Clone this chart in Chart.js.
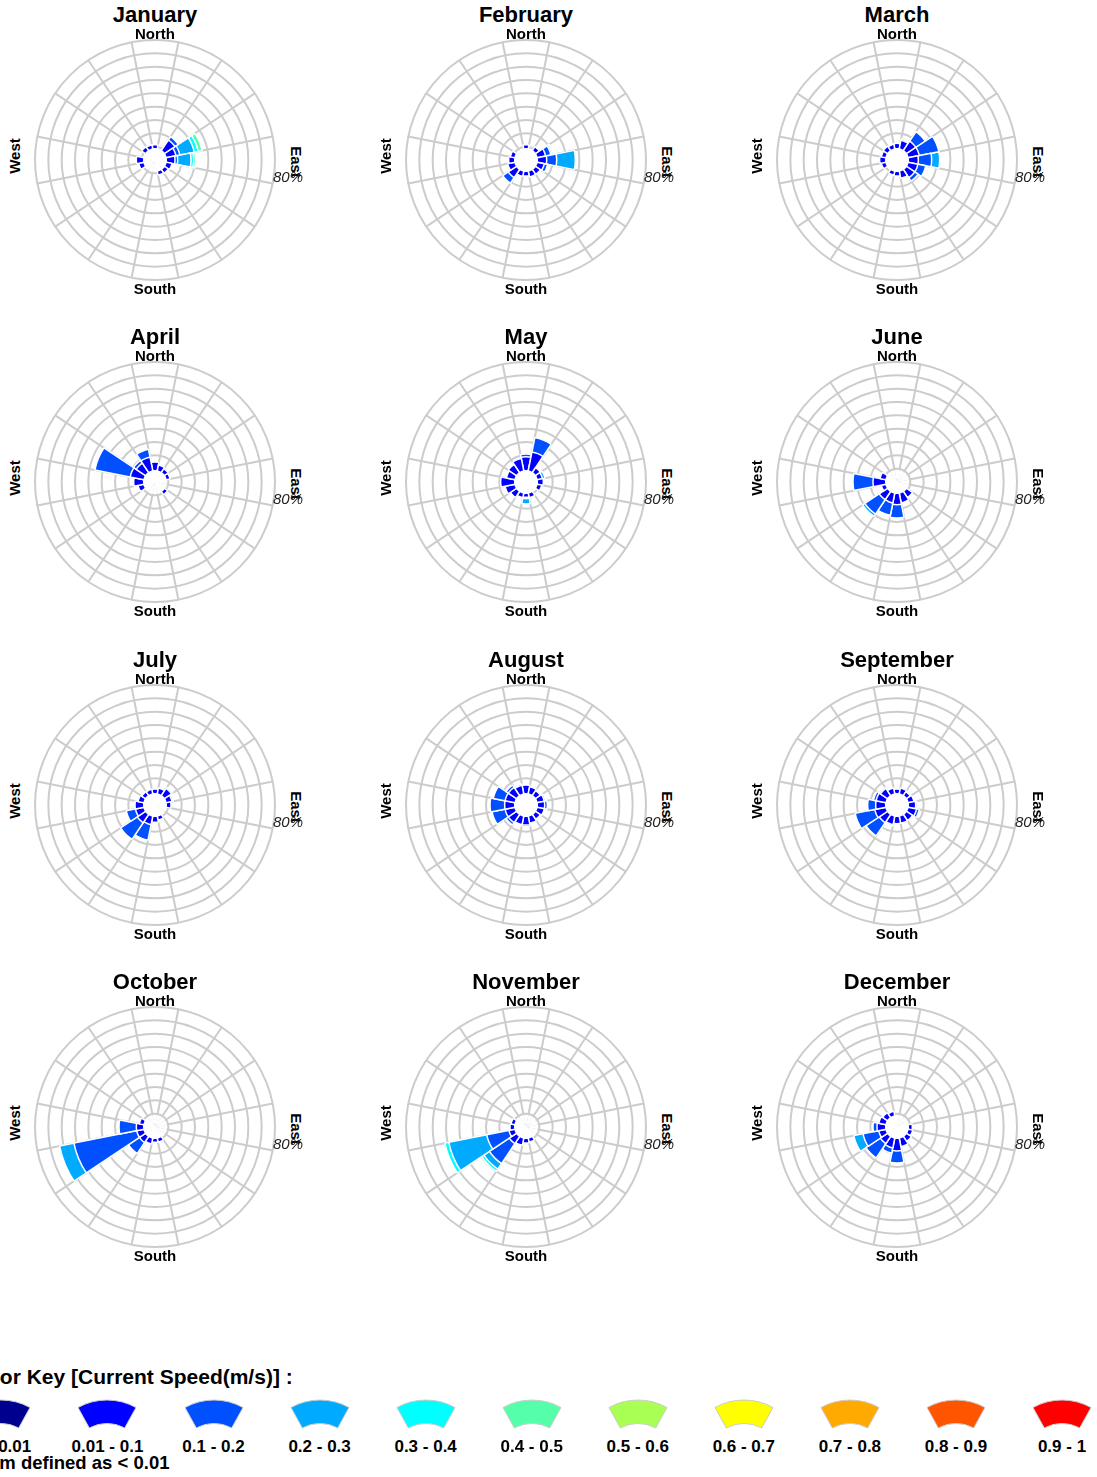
<!DOCTYPE html>
<html>
<head>
<meta charset="utf-8">
<script src="https://cdn.jsdelivr.net/npm/chart.js@4.4.1/dist/chart.umd.min.js"></script>
<style>
  body { margin: 0; background: #fff; }
  #page { position: relative; width: 1097px; height: 1477px; overflow: hidden;
          font-family: Arial, "Liberation Sans", sans-serif; color: #000; }
  .lbl { position: absolute; white-space: nowrap; transform: translate(-50%, -50%);
         font-weight: bold; line-height: 1; }
  canvas { position: absolute; }
  svg { position: absolute; }
</style>
</head>
<body>
<div id="page"></div>
<script>
// directions, clockwise from North
const directions = ['N', 'NNE', 'NE', 'ENE', 'E', 'ESE', 'SE', 'SSE',
                    'S', 'SSW', 'SW', 'WSW', 'W', 'WNW', 'NW', 'NNW'];
const speedBins = ['< 0.01', '0.01 - 0.1', '0.1 - 0.2', '0.2 - 0.3', '0.3 - 0.4', '0.4 - 0.5',
                   '0.5 - 0.6', '0.6 - 0.7', '0.7 - 0.8', '0.8 - 0.9', '0.9 - 1'];
const binColors = ['#00008f', '#0000ff', '#0050ff', '#00aaff', '#00ffff', '#55ffaa',
                   '#aaff55', '#ffff00', '#ffaa00', '#ff5500', '#ff0000'];
const radialTicks = [-10, 80]; // hole at the centre, outer ring = 80%
const holeValue = -1;

// % of time per direction, one row per speed bin starting at 0.01 - 0.1
const january = [
  [1.5, 0, 8, 6, 5, 3, 2, 1.5, 0, 0, 0, 2.5, 4, 0, 2, 1.5],
  [0, 0, 3, 3, 2, 0, 0, 0, 0, 0, 0, 0, 0, 0, 0, 0],
  [0, 0, 0, 11, 10, 0, 0, 0, 0, 0, 0, 0, 0, 0, 0, 0],
  [0, 0, 0, 3, 2, 0, 0, 0, 0, 0, 0, 0, 0, 0, 0, 0],
  [0, 0, 0, 3, 1.5, 0, 0, 0, 0, 0, 0, 0, 0, 0, 0, 0]
];
const february = [
  [1.5, 0, 2, 5, 5.5, 4, 3, 3, 2, 2.5, 6, 4, 3, 2, 0, 0],
  [0, 0, 0, 4, 7.5, 2.5, 0, 0, 0, 0, 5, 0, 0, 0, 0, 0],
  [0, 0, 0, 1, 14, 0, 0, 0, 0, 0, 0, 0, 0, 0, 0, 0],
  [0, 0, 0, 1, 0, 0, 0, 0, 0, 0, 0, 0, 0, 0, 0, 0]
];
const march = [
  [2.5, 5, 7, 7, 6, 6, 6, 4, 2, 1.5, 0, 2, 3, 2, 2.5, 2],
  [0, 1, 8.5, 15, 10, 6, 3, 0, 0, 0, 0, 0, 0, 0, 0, 0],
  [0, 0, 0, 0, 6, 0, 0, 0, 0, 0, 0, 0, 0, 0, 0, 0]
];
const april = [
  [5, 3, 2, 1.5, 0, 0, 1.5, 0, 0, 0, 0, 3, 6, 9, 7, 9],
  [0, 0, 0, 0, 0, 0, 0, 0, 0, 0, 0, 0, 0, 27, 2.5, 6]
];
const may = [
  [9, 13, 3, 2.5, 3, 2, 0, 2, 1.5, 2, 4, 6, 9, 5, 6, 8],
  [2, 11, 0, 0, 0, 0, 0, 0, 1, 0, 0, 0, 0, 0, 0, 0],
  [0, 0, 0, 2, 0, 0, 0, 0, 4, 0, 0, 0, 0, 0, 0, 0]
];
const june = [
  [0, 0, 0, 0, 0, 0, 4, 6, 7, 6, 6, 2, 8, 3, 0, 0],
  [0, 0, 0, 0, 0, 0, 0, 0, 10, 9.5, 13, 0, 15, 0, 0, 0],
  [0, 0, 0, 0, 0, 0, 0, 0, 0, 0, 2, 0, 0, 0, 0, 0]
];
const july = [
  [2, 3, 5, 3, 2, 0, 0, 1.5, 3, 5, 6, 5, 5, 3, 2, 2],
  [0, 0, 1, 1, 0, 0, 0, 0, 0, 12, 15, 7, 0, 0, 0, 0]
];
const august = [
  [5, 4, 3, 4, 4, 4, 3, 4, 5, 5, 6, 6, 6, 6, 6, 5],
  [0, 0, 0, 1, 2, 0, 0, 0, 1, 0, 2, 10, 11, 9, 2, 1]
];
const september = [
  [2, 3, 2, 3, 4, 5, 4, 4, 4, 5, 6, 7, 6, 6, 5, 3],
  [0, 0, 0, 0, 1, 2, 0, 0, 0, 1, 12, 15, 6, 2, 1, 0]
];
const october = [
  [0, 0, 0, 0, 0, 0, 0, 1.5, 1.5, 3, 4, 4, 4, 2, 0, 0],
  [0, 0, 0, 0, 0, 0, 0, 0, 0, 0, 10, 48, 13, 0, 0, 0],
  [0, 0, 0, 0, 0, 0, 0, 0, 0, 0, 0, 11, 0, 0, 0, 0]
];
const november = [
  [0, 0, 0, 0, 0, 0, 0, 1.5, 2, 4, 5, 3, 2, 1.5, 0, 0],
  [0, 0, 0, 0, 0, 0, 0, 0, 0, 0, 18, 17, 0, 0, 0, 0],
  [0, 0, 0, 0, 0, 0, 0, 0, 0, 0, 5, 29, 0, 0, 0, 0],
  [0, 0, 0, 0, 0, 0, 0, 0, 0, 0, 2, 3, 0, 0, 0, 0]
];
const december = [
  [0, 0, 0, 0, 1.5, 2, 3, 5, 8, 6, 5, 4, 5, 4, 3, 2],
  [0, 0, 0, 0, 0, 0, 0, 0, 9, 4, 13, 12, 3, 0, 0, 0],
  [0, 0, 0, 0, 0, 0, 0, 0, 0, 0, 0, 7, 0, 0, 0, 0]
];

const monthNames = ['January', 'February', 'March', 'April', 'May', 'June',
                    'July', 'August', 'September', 'October', 'November', 'December'];
const monthBins = [january, february, march, april, may, june,
                   july, august, september, october, november, december];

const page = document.getElementById('page');
const colX = [155, 526, 897];
const rowY = [160, 482, 805, 1127];
const R = 120;

function addText(txt, x, y, css) {
  const d = document.createElement('div');
  d.className = 'lbl';
  d.textContent = txt;
  d.style.left = x + 'px';
  d.style.top = y + 'px';
  Object.assign(d.style, css || {});
  page.appendChild(d);
  return d;
}

monthNames.forEach((name, idx) => {
  const cx = colX[idx % 3], cy = rowY[Math.floor(idx / 3)];
  const cv = document.createElement('canvas');
  cv.width = 2 * R + 4; cv.height = 2 * R + 4;
  cv.style.left = (cx - R - 2) + 'px';
  cv.style.top = (cy - R - 2) + 'px';
  page.appendChild(cv);

  // dataset 0 is drawn last -> white hole on top, then the bins stacked outwards
  const datasets = [{
    label: 'hole', data: directions.map(() => holeValue),
    backgroundColor: '#ffffff', borderWidth: 0
  }];
  let cum = directions.map(() => 0);
  monthBins[idx].forEach((seg, k) => {
    cum = cum.map((c, i) => c + seg[i]);
    datasets.push({
      label: speedBins[k + 1],
      data: cum.slice(),
      backgroundColor: seg.map(v => v > 0 ? binColors[k + 1] : 'rgba(0,0,0,0)'),
      borderColor: '#ffffff',
      borderWidth: seg.map(v => v > 0 ? 1.5 : 0)
    });
  });

  new Chart(cv, {
    type: 'polarArea',
    data: { labels: directions, datasets: datasets },
    options: {
      responsive: false,
      animation: false,
      events: [],
      layout: { padding: 2 },
      plugins: { legend: { display: false }, tooltip: { enabled: false } },
      scales: {
        r: {
          min: radialTicks[0], max: radialTicks[1],
          startAngle: -11.25,
          ticks: { display: false, stepSize: 10 },
          grid: { circular: true, color: '#cccccc', lineWidth: 2 },
          angleLines: { display: true, color: '#cccccc', lineWidth: 2 },
          pointLabels: { display: false }
        }
      }
    }
  });

  addText(name, cx, cy - 145, { fontSize: '22px' });
  addText('North', cx, cy - 127, { fontSize: '15px' });
  addText('South', cx, cy + 128, { fontSize: '15px' });
  addText('West', cx - 141, cy - 4, { fontSize: '15px', transform: 'translate(-50%,-50%) rotate(-90deg)' });
  addText('East', cx + 141, cy + 2, { fontSize: '15px', transform: 'translate(-50%,-50%) rotate(90deg)' });
  addText(radialTicks[1] + '%', cx + 133, cy + 16, { fontSize: '15px', fontWeight: 'normal', fontStyle: 'italic', color: '#222' });
});

// colour key
addText('Color Key [Current Speed(m/s)] :', -34, 1376, { fontSize: '21px', transform: 'translate(0,-50%)' });
addText('Calm defined as < 0.01', -29.5, 1463, { fontSize: '18.5px', transform: 'translate(0,-50%)' });

const svgNS = 'http://www.w3.org/2000/svg';
speedBins.forEach((lab, k) => {
  const x = 1.4 + 106.06 * k;
  const svg = document.createElementNS(svgNS, 'svg');
  svg.setAttribute('width', 62); svg.setAttribute('height', 32);
  svg.style.left = (x - 31) + 'px';
  svg.style.top = '1398px';
  const p = document.createElementNS(svgNS, 'path');
  p.setAttribute('d', 'M 2 9.5 A 60 60 0 0 1 60 9.5 L 48.7 30 A 36.6 36.6 0 0 0 13.3 30 Z');
  p.setAttribute('fill', binColors[k]);
  p.setAttribute('stroke', '#cccccc');
  p.setAttribute('stroke-width', 1);
  svg.appendChild(p);
  page.appendChild(svg);
  addText(lab, x + (k === 0 ? 6 : 0), 1446, { fontSize: '17px' });
});
</script>
</body>
</html>
